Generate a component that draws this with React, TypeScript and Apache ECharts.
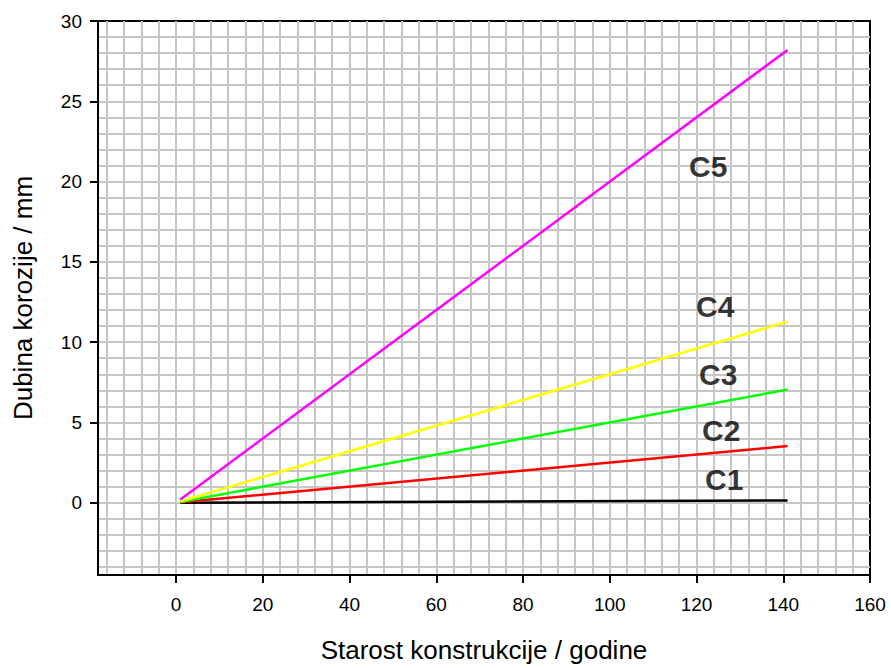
import React, { useEffect, useRef } from "react";
import * as echarts from "echarts";

const seriesNames = ["C1", "C2", "C3", "C4", "C5"];
const seriesColors = ["#000000", "#ff0000", "#00ff00", "#ffff00", "#ff00ff"];
const ageYears = [1, 141];
const depthC1 = [0.001, 0.14];
const depthC2 = [0.025, 3.53];
const depthC3 = [0.05, 7.05];
const depthC4 = [0.08, 11.28];
const depthC5 = [0.2, 28.2];
const seriesDepths = [depthC1, depthC2, depthC3, depthC4, depthC5];

const labelX = [126.4, 125.7, 125, 124.3, 122.7];
const labelY = [1.43, 4.5, 7.98, 12.23, 20.97];

const xTickLabels = [0, 20, 40, 60, 80, 100, 120, 140, 160];
const yTickLabels = [0, 5, 10, 15, 20, 25, 30];
const xGridValues = [-16, -12, -8, -4, 0, 4, 8, 12, 16, 20, 24, 28, 32, 36, 40, 44, 48, 52, 56, 60, 64, 68, 72, 76, 80, 84, 88, 92, 96, 100, 104, 108, 112, 116, 120, 124, 128, 132, 136, 140, 144, 148, 152, 156];
const yGridValues = [-4, -3, -2, -1, 0, 1, 2, 3, 4, 5, 6, 7, 8, 9, 10, 11, 12, 13, 14, 15, 16, 17, 18, 19, 20, 21, 22, 23, 24, 25, 26, 27, 28, 29];

const X_MIN = -18;
const X_MAX = 160;
const Y_MIN = -4.5;
const Y_MAX = 30;

const FONT = "'Liberation Sans', Arial, sans-serif";

export default function App() {
  const ref = useRef<HTMLDivElement>(null);

  useEffect(() => {
    if (!ref.current) return;
    const chart = echarts.init(ref.current, null, { renderer: "svg" });
    const lineSeries = seriesNames.map((name, i) => ({
      name,
      type: "line",
      xAxisIndex: 0,
      yAxisIndex: 0,
      data: ageYears.map((x, j) => [x, seriesDepths[i][j]]),
      showSymbol: false,
      symbol: "none",
      lineStyle: { color: seriesColors[i], width: 2.5 },
      z: 5,
    }));
    const labelSeries = {
      type: "scatter",
      xAxisIndex: 0,
      yAxisIndex: 0,
      symbolSize: 1,
      itemStyle: { color: "rgba(0,0,0,0)" },
      data: seriesNames.map((n, i) => ({ value: [labelX[i], labelY[i]], name: n })),
      label: {
        show: true,
        position: "inside",
        formatter: (p: any) => p.name,
        fontFamily: FONT,
        fontWeight: "bold",
        fontSize: 30,
        color: "#000",
      },
      z: 6,
    };
    chart.setOption({
      animation: false,
      backgroundColor: "#ffffff",
      grid: {
        left: 98,
        right: 21,
        top: 21,
        bottom: 91,
        show: true,
        borderColor: "#000",
        borderWidth: 2,
        backgroundColor: "transparent",
      },
      xAxis: [
        {
          type: "value",
          min: X_MIN,
          max: X_MAX,
          position: "bottom",
          axisLine: { show: true, onZero: false, lineStyle: { color: "#000", width: 2 } },
          axisTick: { show: true, length: 8, customValues: xTickLabels, lineStyle: { color: "#000", width: 2 } },
          axisLabel: { customValues: xTickLabels, fontFamily: FONT, fontSize: 19, color: "#000", margin: 20 },
          splitLine: { show: false },
          name: "Starost konstrukcije / godine",
          nameLocation: "middle",
          nameGap: 62,
          nameTextStyle: { fontFamily: FONT, fontSize: 26, color: "#000" },
          z: 10,
        },
        {
          type: "value",
          min: X_MIN,
          max: X_MAX,
          position: "bottom",
          axisLine: { show: false },
          axisTick: { show: false, customValues: xGridValues },
          axisLabel: { show: false },
          splitLine: { show: true, lineStyle: { color: "#c6c6c6", width: 2 } },
        },
      ],
      yAxis: [
        {
          type: "value",
          min: Y_MIN,
          max: Y_MAX,
          position: "left",
          axisLine: { show: true, onZero: false, lineStyle: { color: "#000", width: 2 } },
          axisTick: { show: true, length: 8, customValues: yTickLabels, lineStyle: { color: "#000", width: 2 } },
          axisLabel: { customValues: yTickLabels, fontFamily: FONT, fontSize: 19, color: "#000", margin: 16 },
          splitLine: { show: false },
          name: "Dubina korozije / mm",
          nameLocation: "middle",
          nameGap: 62,
          nameRotate: 90,
          nameTextStyle: { fontFamily: FONT, fontSize: 26, color: "#000" },
          z: 10,
        },
        {
          type: "value",
          min: Y_MIN,
          max: Y_MAX,
          position: "left",
          axisLine: { show: false },
          axisTick: { show: false, customValues: yGridValues },
          axisLabel: { show: false },
          splitLine: { show: true, lineStyle: { color: "#c6c6c6", width: 2 } },
        },
      ],
      series: [...lineSeries, labelSeries],
    });
    return () => chart.dispose();
  }, []);

  return <div ref={ref} style={{ width: 891, height: 668, position: "absolute", left: 0, top: 0 }} />;
}
